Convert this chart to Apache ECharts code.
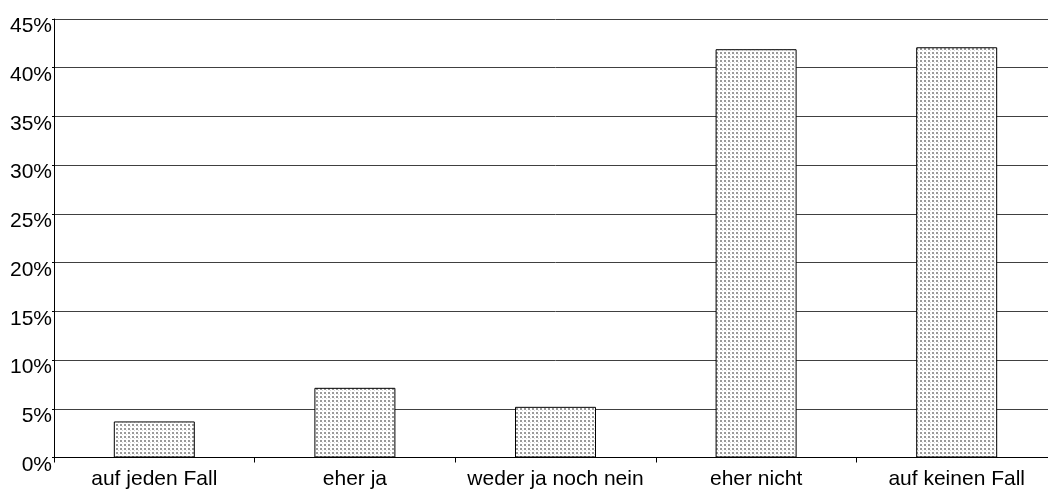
<!DOCTYPE html>
<html><head><meta charset="utf-8">
<script src="https://cdn.jsdelivr.net/npm/echarts@6/dist/echarts.min.js"></script>
<style>html,body{margin:0;padding:0;background:#fff;overflow:hidden;width:1048px;height:491px}#c{width:1070px;height:491px}</style>
</head><body><div id="c"></div>
<script>
var categories = ['auf jeden Fall', 'eher ja', 'weder ja noch nein', 'eher nicht', 'auf keinen Fall'];
var values = [3.7, 7.15, 5.2, 41.9, 42.1];
var yTicks = [0, 5, 10, 15, 20, 25, 30, 35, 40, 45];

var pc = document.createElement('canvas');
pc.width = 4; pc.height = 4;
var g = pc.getContext('2d');
g.fillStyle = '#ffffff'; g.fillRect(0, 0, 4, 4);
g.fillStyle = '#9a9a9a';
g.fillRect(0, 0, 2, 2);
g.fillStyle = '#d8d8d8';
g.fillRect(2, 2, 1, 1);

var chart = echarts.init(document.getElementById('c'), null, {renderer: 'canvas'});
chart.setOption({
  animation: false,
  grid: {left: 54, width: 1003, top: 19, bottom: 33.5, containLabel: false},
  xAxis: {
    type: 'category', data: categories,
    axisLine: {lineStyle: {color: '#000', width: 1}},
    axisTick: {show: true, interval: 0, alignWithLabel: false, length: 5, lineStyle: {color: '#000'}},
    axisLabel: {interval: 0, color: '#000', fontFamily: 'Liberation Sans, Arial', fontSize: 21, margin: 11}
  },
  yAxis: {
    type: 'value', min: yTicks[0], max: yTicks[yTicks.length - 1], interval: 5,
    axisLine: {show: true, lineStyle: {color: '#000', width: 1}},
    axisTick: {show: true, length: 2, lineStyle: {color: '#000'}},
    axisLabel: {color: '#000', fontFamily: 'Liberation Sans, Arial', fontSize: 21, margin: 2,
      verticalAlign: 'top', lineHeight: 15, formatter: '{value}%'},
    splitLine: {show: true, lineStyle: {color: '#404040', width: 1}}
  },
  series: [{
    type: 'bar', data: values, barWidth: 81,
    itemStyle: {color: {image: pc, repeat: 'repeat'}, borderColor: '#000', borderWidth: 1}
  }]
});
</script></body></html>
